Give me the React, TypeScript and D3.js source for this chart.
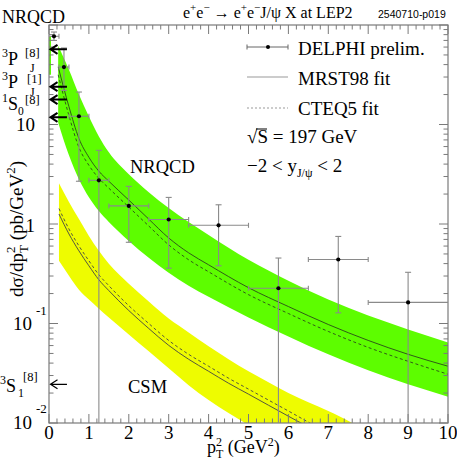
import React from 'react';
import * as d3 from 'd3';

const W = 457, H = 462;
const PL = 49, PR = 448, PT = 25, PB = 423;

// NRQCD band + fits
const nrqcdX = [0.23, 0.5, 0.75, 1, 1.25, 1.5, 2, 2.5, 3, 3.5, 4, 5, 6, 7, 8, 9, 10];
const nrqcdUpper = [61.7, 35.5, 20.0, 12.0, 7.59, 5.25, 3.16, 2.09, 1.45, 1.05, 0.776, 0.437, 0.269, 0.174, 0.120, 0.0871, 0.0646];
const nrqcdLower = [10.5, 4.90, 2.82, 1.86, 1.35, 1.05, 0.676, 0.457, 0.324, 0.240, 0.186, 0.115, 0.0741, 0.049, 0.0339, 0.0245, 0.0184];
const nrqcdMrst = [38.0, 15.1, 7.24, 4.68, 3.39, 2.69, 1.74, 1.12, 0.724, 0.513, 0.389, 0.229, 0.148, 0.0977, 0.0676, 0.049, 0.0372];
const nrqcdCteq = [31.6, 12.3, 5.89, 3.89, 2.88, 2.29, 1.48, 0.955, 0.617, 0.437, 0.331, 0.195, 0.126, 0.0832, 0.0575, 0.0417, 0.0309];
const stripX = [0, 0.05];
const stripUpper = [77, 77];
const stripLower = [31.6, 31.6];

// CSM band + fits
const csmX = [0.25, 0.5, 0.75, 1, 1.25, 1.5, 2, 2.5, 3, 3.5, 4, 4.5, 5, 5.5, 6, 7, 7.6, 8];
const csmUpper = [2.57, 1.66, 1.12, 0.759, 0.537, 0.398, 0.251, 0.166, 0.112, 0.0813, 0.0589, 0.0437, 0.0331, 0.0257, 0.02, 0.0132, 0.01, 0.00794];
const csmLower = [0.427, 0.302, 0.219, 0.174, 0.141, 0.115, 0.0776, 0.0525, 0.0355, 0.024, 0.017, 0.0126, 0.00955, 0.00759, 0.00631, 0.00398, 0.00316, 0.00251];
const csmLineX = [0.25, 0.5, 0.75, 1, 1.25, 1.5, 2, 2.5, 3, 3.5, 4, 4.5, 5, 5.5, 6, 6.5, 7];
const csmMrst = [1.26, 0.794, 0.537, 0.380, 0.275, 0.214, 0.135, 0.0891, 0.0603, 0.0437, 0.0331, 0.0251, 0.0195, 0.0151, 0.0117, 0.00912, 0.0071];
const csmCteq = [1.43, 0.891, 0.603, 0.427, 0.309, 0.240, 0.151, 0.100, 0.0676, 0.049, 0.0372, 0.0282, 0.0219, 0.0170, 0.0132, 0.0102, 0.00794];

// DELPHI data
const ptX = [0.125, 0.375, 0.75, 1.25, 2.0, 3.0, 4.25, 5.75, 7.25, 9.0];
const ptY = [77, 37.8, 12.1, 2.75, 1.52, 1.11, 0.97, 0.226, 0.44, 0.163];
const ptXlo = [0, 0.25, 0.5, 1.0, 1.5, 2.5, 3.5, 5.0, 6.5, 8.0];
const ptXhi = [0.25, 0.5, 1.0, 1.5, 2.5, 3.5, 5.0, 6.5, 8.0, 10.0];
const ptYhi = [85, 58.7, 21.2, 5.5, 2.39, 1.85, 1.56, 0.455, 0.75, 0.327];
const ptYlo = [70, 22, 2.69, 0.001, 0.655, 0.36, 0.38, 0.001, 0.128, 0.001];

// left arrows (octet/singlet contributions)
const arrowY = [57, 24, 17.8, 11.8, 0.0245];
const arrowWidth = [2, 2, 2, 2, 1.2];
const arrowLen = 0.45;

const xTicks = [0, 1, 2, 3, 4, 5, 6, 7, 8, 9, 10];
const yDecades = [0.01, 0.1, 1, 10, 100];
const legendLabels = ['DELPHI prelim.', 'MRST98 fit', 'CTEQ5 fit'];

const SERIF = '"Liberation Serif", "Times New Roman", serif';

export default function App() {
  const x = d3.scaleLinear().domain([0, 10]).range([PL, PR]);
  const y = d3.scaleLog().domain([0.01, 100]).range([PB, PT]).clamp(true);
  const yr = d3.scaleLog().domain([0.01, 100]).range([PB, PT]);

  const area = (xs: number[], lo: number[], hi: number[]) =>
    d3.area<number>()
      .x((_, i) => x(xs[i]))
      .y0((_, i) => yr(lo[i]))
      .y1((_, i) => yr(hi[i]))
      .curve(d3.curveMonotoneX)(xs) as string;
  const line = (xs: number[], ys: number[]) =>
    d3.line<number>()
      .x((_, i) => x(xs[i]))
      .y((_, i) => yr(ys[i]))
      .curve(d3.curveMonotoneX)(xs) as string;

  const minorX = d3.range(0, 10.001, 0.2).filter(v => Math.abs(v - Math.round(v)) > 1e-6);
  const minorY: number[] = [];
  yDecades.slice(0, 4).forEach(d => { for (let k = 2; k <= 9; k++) minorY.push(d * k); });

  const frame = '#7a7a7a';
  const green = '#5dfd00';
  const yellow = '#eefc00';
  const errc = '#8a8a8a';

  const majL = 9, minL = 4.5;

  return (
    <svg width={W} height={H} style={{ position: 'absolute', left: 0, top: 0, background: '#fff' }}
      fontFamily={SERIF}>
      <defs>
        <clipPath id="plotclip"><rect x={PL} y={PT} width={PR - PL} height={PB - PT} /></clipPath>
      </defs>
      <rect x={0} y={0} width={W} height={H} fill="#fff" />
      <g clipPath="url(#plotclip)">
        <path d={area(csmX, csmLower, csmUpper)} fill={yellow} />
        <path d={area(nrqcdX, nrqcdLower, nrqcdUpper)} fill={green} />
        <path d={area(stripX, stripLower, stripUpper)} fill={green} />
        <path d={line(nrqcdX, nrqcdMrst)} fill="none" stroke="#2a4a1a" strokeWidth={0.9} />
        <path d={line(nrqcdX, nrqcdCteq)} fill="none" stroke="#2a4a1a" strokeWidth={0.9} strokeDasharray="3,2.5" />
        <path d={line(csmLineX, csmMrst)} fill="none" stroke="#444" strokeWidth={0.9} />
        <path d={line(csmLineX, csmCteq)} fill="none" stroke="#444" strokeWidth={0.9} strokeDasharray="3,2.5" />
      </g>

      {/* frame & ticks */}
      <rect x={PL} y={PT} width={PR - PL} height={PB - PT} fill="none" stroke={frame} strokeWidth={1.2} />
      {xTicks.map(v => (
        <g key={'xt' + v} stroke={frame} strokeWidth={1}>
          <line x1={x(v)} x2={x(v)} y1={PB} y2={PB - majL} />
          <line x1={x(v)} x2={x(v)} y1={PT} y2={PT + majL} />
        </g>
      ))}
      {minorX.map(v => (
        <g key={'xm' + v} stroke={frame} strokeWidth={1}>
          <line x1={x(v)} x2={x(v)} y1={PB} y2={PB - minL} />
          <line x1={x(v)} x2={x(v)} y1={PT} y2={PT + minL} />
        </g>
      ))}
      {yDecades.map(v => (
        <g key={'yt' + v} stroke={frame} strokeWidth={1}>
          <line x1={PL} x2={PL + majL} y1={yr(v)} y2={yr(v)} />
          <line x1={PR} x2={PR - majL} y1={yr(v)} y2={yr(v)} />
        </g>
      ))}
      {minorY.map(v => (
        <g key={'ym' + v} stroke={frame} strokeWidth={1}>
          <line x1={PL} x2={PL + minL} y1={yr(v)} y2={yr(v)} />
          <line x1={PR} x2={PR - minL} y1={yr(v)} y2={yr(v)} />
        </g>
      ))}

      {/* data points */}
      {ptX.map((px, i) => {
        const cx = x(px), cy = yr(ptY[i]);
        const yTop = y(ptYhi[i]), yBot = y(ptYlo[i]);
        const xl = x(ptXlo[i]), xh = x(ptXhi[i]);
        return (
          <g key={'pt' + i} stroke={errc} strokeWidth={1.1}>
            <line x1={cx} x2={cx} y1={yTop} y2={yBot} />
            <line x1={cx - 3} x2={cx + 3} y1={yTop} y2={yTop} />
            {ptYlo[i] >= 0.01 && <line x1={cx - 3} x2={cx + 3} y1={yBot} y2={yBot} />}
            <line x1={xl} x2={xh} y1={cy} y2={cy} />
            {ptXlo[i] > 0 && <line x1={xl} x2={xl} y1={cy - 2.5} y2={cy + 2.5} />}
            {ptXhi[i] < 10 && <line x1={xh} x2={xh} y1={cy - 2.5} y2={cy + 2.5} />}
            <circle cx={cx} cy={cy} r={2.1} fill="#000" stroke="none" />
          </g>
        );
      })}

      {/* arrows */}
      {arrowY.map((v, i) => {
        const yy = yr(v), x0 = x(0) + 1.5, x1 = x(arrowLen);
        return (
          <path key={'ar' + i} d={`M${x1},${yy}L${x0},${yy}M${x0 + 7},${yy - 4.5}L${x0},${yy}L${x0 + 7},${yy + 4.5}`}
            fill="none" stroke="#000" strokeWidth={arrowWidth[i]} />
        );
      })}

      {/* x tick labels */}
      {xTicks.map(v => (
        <text key={'xl' + v} x={x(v)} y={439} fontSize={19} textAnchor="middle">{v}</text>
      ))}
      {/* y tick labels */}
      <text x={35} y={131} fontSize={19} textAnchor="end">10</text>
      <text x={35} y={232} fontSize={19} textAnchor="end">1</text>
      <text x={32} y={330} fontSize={19} textAnchor="end">10</text>
      <text x={36} y={315} fontSize={13}>-1</text>
      <text x={32} y={429} fontSize={19} textAnchor="end">10</text>
      <text x={36} y={413} fontSize={13}>-2</text>

      {/* axis titles */}
      <text x={207} y={453} fontSize={18}>
        p<tspan fontSize={12} dy={-7}>2</tspan><tspan fontSize={12} dx={-6} dy={12}>T</tspan><tspan dy={-5}> (GeV</tspan><tspan fontSize={12} dy={-7}>2</tspan><tspan dy={7}>)</tspan>
      </text>
      <text transform="translate(23,229) rotate(-90)" fontSize={19} textAnchor="middle">
        dσ/dp<tspan fontSize={13} dy={-8}>2</tspan><tspan fontSize={13} dx={-6.5} dy={13}>T</tspan><tspan dy={-5}> (pb/GeV</tspan><tspan fontSize={13} dy={-8}>2</tspan><tspan dy={8}>)</tspan>
      </text>

      {/* header */}
      <text x={2} y={23} fontSize={18}>NRQCD</text>
      <text x={183} y={18} fontSize={16}>
        e<tspan fontSize={11} dy={-7}>+</tspan><tspan dy={7}>e</tspan><tspan fontSize={11} dy={-7}>−</tspan><tspan dy={7}> → e</tspan><tspan fontSize={11} dy={-7}>+</tspan><tspan dy={7}>e</tspan><tspan fontSize={11} dy={-7}>−</tspan><tspan dy={7}>J/ψ X at LEP2</tspan>
      </text>
      <text x={378} y={18} fontSize={10.5} fontFamily='"Liberation Sans", Arial, sans-serif'>2540710-p019</text>

      {/* left labels */}
      <text x={2} y={65} fontSize={18}><tspan fontSize={12} dy={-8}>3</tspan><tspan dy={8}>P</tspan></text>
      <text x={25} y={57} fontSize={12.5}>[8]</text>
      <text x={30} y={72} fontSize={12}>J</text>
      <text x={2} y={88} fontSize={18}><tspan fontSize={12} dy={-8}>3</tspan><tspan dy={8}>P</tspan></text>
      <text x={27} y={83} fontSize={12.5}>[1]</text>
      <text x={30} y={96} fontSize={12}>J</text>
      <text x={2} y={110} fontSize={18}><tspan fontSize={12} dy={-8}>1</tspan><tspan dy={8}>S</tspan></text>
      <text x={25} y={104} fontSize={12.5}>[8]</text>
      <text x={18} y={115} fontSize={11.5}>0</text>
      <text x={0} y={392} fontSize={18}><tspan fontSize={12} dy={-8}>3</tspan><tspan dy={8}>S</tspan></text>
      <text x={18} y={397} fontSize={12}>1</text>
      <text x={23} y={381} fontSize={12.5}>[8]</text>

      {/* band labels */}
      <text x={130} y={173} fontSize={18.5}>NRQCD</text>
      <text x={128} y={393} fontSize={18.5}>CSM</text>

      {/* legend */}
      <g stroke="#666" strokeWidth={1}>
        <line x1={247} x2={288} y1={47} y2={47} />
        <line x1={247} x2={247} y1={44.5} y2={49.5} />
        <line x1={288} x2={288} y1={44.5} y2={49.5} />
      </g>
      <circle cx={268} cy={47} r={2} fill="#000" />
      <line x1={247} x2={288} y1={77} y2={77} stroke="#999" strokeWidth={1} />
      <line x1={247} x2={288} y1={108} y2={108} stroke="#999" strokeWidth={1} strokeDasharray="2,2" />
      {legendLabels.map((t, i) => (
        <text key={t} x={298} y={55 + i * 30} fontSize={19}>{t}</text>
      ))}
      <text x={247} y={143} fontSize={19}>√S = 197 GeV</text>
      <line x1={256} x2={267} y1={129} y2={129} stroke="#000" strokeWidth={1} />
      <text x={247} y={172} fontSize={19}>
        −2 &lt; y<tspan fontSize={12} dy={5}>J/ψ</tspan><tspan dy={-5}> &lt; 2</tspan>
      </text>
    </svg>
  );
}
